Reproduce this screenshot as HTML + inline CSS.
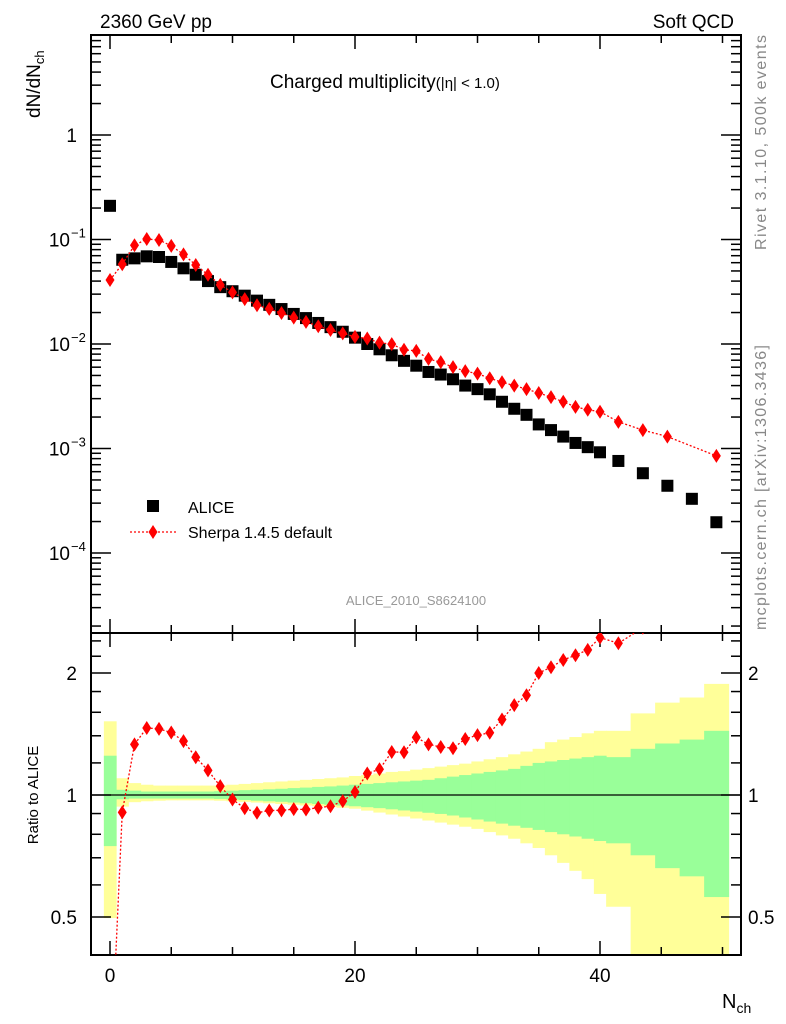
<!DOCTYPE html>
<html><head><meta charset="utf-8"><style>
html,body{margin:0;background:#fff;overflow:hidden;width:786px;height:1024px}
svg{display:block;font-family:"Liberation Sans",sans-serif}
</style></head><body>
<svg id="c" width="786" height="1024" viewBox="0 0 786 1024">
<text x="100" y="28" font-size="19">2360 GeV pp</text>
<text x="734" y="28" font-size="19" text-anchor="end">Soft QCD</text>
<text x="270" y="88" font-size="19">Charged multiplicity<tspan font-size="15">(|η| &lt; 1.0)</tspan></text>
<text transform="translate(40,118) rotate(-90)" font-size="19">dN/dN<tspan font-size="13" dy="4">ch</tspan></text>
<text transform="translate(766,250) rotate(-90)" font-size="16" fill="#888" textLength="215">Rivet 3.1.10,  500k events</text>
<text transform="translate(766,630) rotate(-90)" font-size="16" fill="#888" textLength="285">mcplots.cern.ch [arXiv:1306.3436]</text>
<text x="416" y="605" font-size="13" fill="#999" text-anchor="middle">ALICE_2010_S8624100</text>
<text transform="translate(38,795) rotate(-90)" font-size="15" text-anchor="middle">Ratio to ALICE</text>
<text x="722" y="1008" font-size="20">N<tspan font-size="14" dy="5">ch</tspan></text>
<g id="g"></g>
</svg>
<script>
const aliceX=[0,1,2,3,4,5,6,7,8,9,10,11,12,13,14,15,16,17,18,19,20,21,22,23,24,25,26,27,28,29,30,31,32,33,34,35,36,37,38,39,40,41.5,43.5,45.5,47.5,49.5];
const aliceY=[0.21,0.064,0.066,0.069,0.068,0.061,0.053,0.046,0.040,0.035,0.032,0.029,0.026,0.0237,0.0216,0.0194,0.0177,0.0159,0.0145,0.0131,0.0115,0.0100,0.0089,0.0078,0.0069,0.0062,0.0054,0.0051,0.0046,0.0040,0.0037,0.0033,0.0028,0.0024,0.0021,0.0017,0.0015,0.0013,0.00113,0.00103,0.00092,0.00076,0.00058,0.00044,0.00033,0.000197];
const sherpaX=[0,1,2,3,4,5,6,7,8,9,10,11,12,13,14,15,16,17,18,19,20,21,22,23,24,25,26,27,28,29,30,31,32,33,34,35,36,37,38,39,40,41.5,43.5,45.5,49.5];
const sherpaY=[0.041,0.058,0.088,0.101,0.099,0.087,0.072,0.057,0.046,0.0368,0.0312,0.0269,0.0235,0.0217,0.0198,0.0179,0.0163,0.0148,0.0136,0.01265,0.0117,0.0113,0.0103,0.00996,0.0088,0.0086,0.0072,0.0067,0.0060,0.0055,0.0052,0.0047,0.0043,0.0040,0.0037,0.0034,0.0031,0.0028,0.0025,0.00235,0.00225,0.0018,0.0015,0.0013,0.00085];
const binLo=[-0.5,0.5,1.5,2.5,3.5,4.5,5.5,6.5,7.5,8.5,9.5,10.5,11.5,12.5,13.5,14.5,15.5,16.5,17.5,18.5,19.5,20.5,21.5,22.5,23.5,24.5,25.5,26.5,27.5,28.5,29.5,30.5,31.5,32.5,33.5,34.5,35.5,36.5,37.5,38.5,39.5,40.5,42.5,44.5,46.5,48.5];
const binHi=[0.5,1.5,2.5,3.5,4.5,5.5,6.5,7.5,8.5,9.5,10.5,11.5,12.5,13.5,14.5,15.5,16.5,17.5,18.5,19.5,20.5,21.5,22.5,23.5,24.5,25.5,26.5,27.5,28.5,29.5,30.5,31.5,32.5,33.5,34.5,35.5,36.5,37.5,38.5,39.5,40.5,42.5,44.5,46.5,48.5,50.5];
const yelHi=[1.52,1.10,1.07,1.06,1.055,1.055,1.055,1.055,1.055,1.055,1.06,1.065,1.07,1.075,1.08,1.085,1.09,1.095,1.10,1.105,1.114,1.12,1.13,1.14,1.145,1.155,1.165,1.175,1.185,1.195,1.21,1.225,1.24,1.26,1.28,1.30,1.35,1.37,1.39,1.42,1.44,1.44,1.59,1.69,1.74,1.88];
const yelLo=[0.497,0.936,0.96,0.965,0.968,0.97,0.97,0.97,0.97,0.968,0.965,0.962,0.958,0.954,0.95,0.946,0.942,0.938,0.934,0.93,0.925,0.915,0.905,0.895,0.885,0.875,0.865,0.855,0.845,0.835,0.825,0.81,0.795,0.78,0.76,0.74,0.71,0.68,0.65,0.62,0.57,0.53,0.3,0.3,0.3,0.3];
const grnHi=[1.25,1.03,1.025,1.02,1.02,1.02,1.02,1.02,1.02,1.022,1.025,1.028,1.03,1.033,1.036,1.04,1.043,1.047,1.05,1.055,1.06,1.065,1.07,1.075,1.08,1.085,1.09,1.10,1.11,1.12,1.13,1.14,1.15,1.16,1.18,1.20,1.21,1.22,1.23,1.24,1.25,1.24,1.30,1.34,1.37,1.44];
const grnLo=[0.748,0.976,0.98,0.98,0.98,0.98,0.98,0.98,0.98,0.978,0.975,0.972,0.968,0.965,0.962,0.958,0.954,0.95,0.946,0.942,0.938,0.933,0.928,0.922,0.916,0.91,0.904,0.898,0.89,0.88,0.87,0.86,0.85,0.84,0.83,0.82,0.81,0.80,0.79,0.78,0.77,0.76,0.71,0.66,0.63,0.56];
const xTicks=[0,20,40];
const mainTicks=[1,0.1,0.01,0.001,0.0001];
const mainTickLabels=["1","10","10","10","10"];
const mainTickExp=["","−1","−2","−3","−4"];
const ratioTicks=[0.5,1,2];
const ratioTickLabels=["0.5","1","2"];

const L=91,R=741,T1=35,B1=633,T2=633,B2=955;
const X=v=>110+v*12.25;
const Y1=v=>135-Math.log10(v)*104.5;
const Y2=v=>795-Math.log2(v)*122;
const NS="http://www.w3.org/2000/svg";
const g=document.getElementById('g');
function mk(t,a,p){const e=document.createElementNS(NS,t);for(const k in a)e.setAttribute(k,a[k]);(p||g).appendChild(e);return e;}

const defs=mk('defs',{});
const cp=mk('clipPath',{id:'rc'},defs);mk('rect',{x:L,y:T2,width:R-L,height:B2-T2},cp);
const cp1=mk('clipPath',{id:'mc'},defs);mk('rect',{x:L,y:T1,width:R-L,height:B1-T1},cp1);
const bands=mk('g',{'clip-path':'url(#rc)'});


for(let i=0;i<binLo.length;i++){
  const r=mk('rect',{x:X(binLo[i]),y:Y2(yelHi[i]),width:X(binHi[i])-X(binLo[i])+0.5,height:Y2(yelLo[i])-Y2(yelHi[i]),fill:'#ffff99'},bands);
  
  
}
for(let i=0;i<binLo.length;i++){
  const r=mk('rect',{x:X(binLo[i]),y:Y2(grnHi[i]),width:X(binHi[i])-X(binLo[i])+0.5,height:Y2(grnLo[i])-Y2(grnHi[i]),fill:'#99ff99'},bands);
  
  
}
const one=mk('line',{x1:L,x2:R,y1:Y2(1),y2:Y2(1),stroke:'#000','stroke-width':1.3});



for(const [t,b] of [[T1,B1],[T2,B2]]){
  const f=mk('rect',{x:L,y:t,width:R-L,height:b-t,fill:'none',stroke:'#000','stroke-width':2});
  
  
}
for(let v=0;v<=50;v+=5){
  const len=(v%20===0)?14:8;
  for(const [t,b] of [[T1,B1],[T2,B2]]){
    mk('line',{x1:X(v),x2:X(v),y1:b,y2:b-len,stroke:'#000','stroke-width':1.5});
    mk('line',{x1:X(v),x2:X(v),y1:t,y2:t+len,stroke:'#000','stroke-width':1.5});
  }
}
xTicks.forEach(v=>{const t=mk('text',{x:X(v),y:982,'font-size':19,'text-anchor':'middle'});t.textContent=v;

});
for(let e=-5;e<=0;e++){for(let m=1;m<10;m++){const v=m*Math.pow(10,e);const y=Y1(v);if(y<T1||y>B1)continue;const len=m===1?20:10;
mk('line',{x1:L,x2:L+len,y1:y,y2:y,stroke:'#000','stroke-width':1.5});mk('line',{x1:R,x2:R-len,y1:y,y2:y,stroke:'#000','stroke-width':1.5});}}
mainTicks.forEach((v,i)=>{const t=mk('text',{x:mainTickExp[i]?70:77,y:Y1(v)+7,'font-size':19,'text-anchor':'end'});t.textContent=mainTickLabels[i];


if(mainTickExp[i]){const s=mk('text',{x:71,y:Y1(v)-2,'font-size':13});s.textContent=mainTickExp[i];

}});
[0.4,0.5,0.6,0.7,0.8,0.9,1,1.2,1.4,1.6,1.8,2,2.2,2.4].forEach(v=>{const y=Y2(v);if(y<T2||y>B2)return;const len=(v===0.5||v===1||v===2)?20:10;
mk('line',{x1:L,x2:L+len,y1:y,y2:y,stroke:'#000','stroke-width':1.5});mk('line',{x1:R,x2:R-len,y1:y,y2:y,stroke:'#000','stroke-width':1.5});});
ratioTicks.forEach((v,i)=>{for(const [x,a] of [[77,'end'],[748,'start']]){const t=mk('text',{x:x,y:Y2(v)+7,'font-size':19,'text-anchor':a});t.textContent=ratioTickLabels[i];

}});

const mg=mk('g',{'clip-path':'url(#mc)'});
aliceX.forEach((x,i)=>{const r=mk('rect',{x:X(x)-6,y:Y1(aliceY[i])-6,width:12,height:12,fill:'#000'},mg);

});
const sl=mk('polyline',{points:sherpaX.map((x,i)=>X(x)+','+Y1(sherpaY[i])).join(' '),fill:'none',stroke:'#f00','stroke-width':1.3,'stroke-dasharray':'2,2'},mg);


const dia=(x,y,p)=>mk('polygon',{points:`${x},${y-7} ${x+4.5},${y} ${x},${y+7} ${x-4.5},${y}`,fill:'#f00'},p);
sherpaX.forEach((x,i)=>{const d=dia(X(x),Y1(sherpaY[i]),mg);

});

const rg=mk('g',{'clip-path':'url(#rc)'});
const ratio=sherpaX.map((x,i)=>{const j=aliceX.indexOf(x);return sherpaY[i]/aliceY[j];});
const rl=mk('polyline',{points:sherpaX.map((x,i)=>X(x)+','+Y2(ratio[i])).join(' '),fill:'none',stroke:'#f00','stroke-width':1.3,'stroke-dasharray':'2,2'},rg);


sherpaX.forEach((x,i)=>{const d=dia(X(x),Y2(ratio[i]),rg);

});

const lg=mk('g',{});


mk('rect',{x:147,y:500,width:12,height:12,fill:'#000'},lg);
let t=mk('text',{x:188,y:513,'font-size':16},lg);t.textContent='ALICE';


mk('line',{x1:130,x2:176,y1:532,y2:532,stroke:'#f00','stroke-width':1.3,'stroke-dasharray':'2,2'},lg);
dia(153,532,lg);
t=mk('text',{x:188,y:538,'font-size':16},lg);t.textContent='Sherpa 1.4.5 default';


</script>
</body></html>
